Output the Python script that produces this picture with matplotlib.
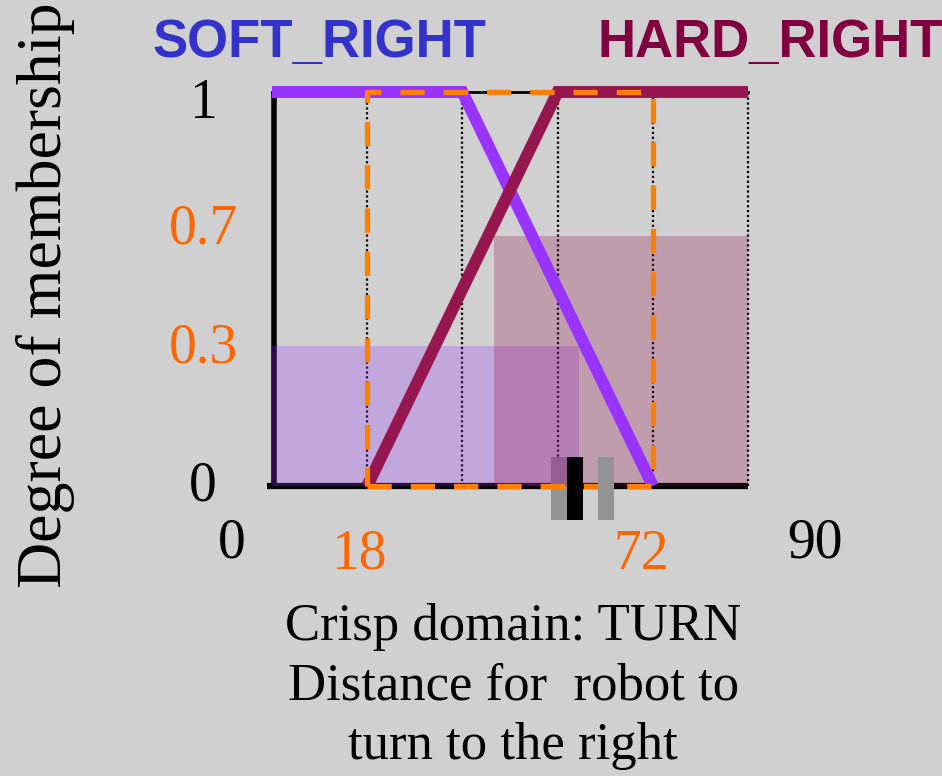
import matplotlib
matplotlib.use("Agg")
import matplotlib.pyplot as plt

# membership functions (crisp domain TURN, 0..90)
soft_x = [0, 36, 72]
soft_y = [1, 1, 0]
hard_x = [18, 54, 90]
hard_y = [0, 1, 1]

# clipped areas (rule strengths)
soft_fill_x = [0, 58]
soft_fill_h = 0.355
hard_fill_x = [42, 90]
hard_fill_h = 0.635

# support rectangle and grid
support = [18, 72]
grid_x = [18, 36, 54, 72, 90]

# defuzzified markers
marker_x = [54.2, 57.25, 63.2]
marker_colors = ["#939393", "#000000", "#939393"]
marker_bottom = -0.086
marker_height = 0.16

# labels
y_tick_vals = [0, 0.35, 0.65, 0.97]
y_tick_labels = ["0", "0.3", "0.7", "1"]
y_tick_colors = ["black", "#ff6600", "#ff6600", "black"]
x_tick_labels = ["0", "18", "72", "90"]
x_tick_colors = ["black", "#ff6600", "#ff6600", "black"]
x_tick_pos = [(-7.6, -0.145), (16.4, -0.175), (69.8, -0.175), (102.6, -0.145)]
x_title = ["Crisp domain: TURN", "Distance for  robot to", "turn to the right"]

SOFT_C = "#9933ff"
HARD_C = "#961650"
ORANGE = "#ff8000"
BG = "#d0d0d0"
SERIF = "Liberation Serif"

fig = plt.figure(figsize=(9.42, 7.76), dpi=100, facecolor=BG)
ax = fig.add_axes([0, 0, 1, 1])
ax.set_facecolor(BG)
ax.set_xlim(-272 / 5.289, (942 - 272) / 5.289)
ax.set_ylim(-(776 - 486) / 394, 486 / 394)
ax.axis("off")

# grid: dotted verticals, top line, axes
for gx in grid_x:
    ax.plot([gx, gx], [0, 1], color="black", lw=1.6, ls=(0, (1, 1.2)), zorder=1)
ax.plot([0, 90], [1, 1], color="black", lw=2, zorder=1)
ax.plot([-1, 90], [0, 0], color="black", lw=4.5, solid_capstyle="butt", zorder=1)
ax.plot([0.3, 0.3], [0, 1], color="black", lw=4, solid_capstyle="butt", zorder=1)

# the left grey marker sits behind the fills
ax.bar(marker_x[0], marker_height, width=3, bottom=marker_bottom,
       color=marker_colors[0], zorder=1.5)

# clipped fills
ax.fill_between(soft_fill_x, 0, soft_fill_h, color=SOFT_C, alpha=0.26, lw=0, zorder=2)
ax.fill_between(hard_fill_x, 0, hard_fill_h, color=HARD_C, alpha=0.27, lw=0, zorder=2)

# membership lines
ax.plot(soft_x, soft_y, color=SOFT_C, lw=8.6, solid_joinstyle="miter",
        solid_capstyle="butt", zorder=3)
ax.plot(hard_x, hard_y, color=HARD_C, lw=8.6, solid_joinstyle="miter",
        solid_capstyle="butt", zorder=4)

# orange dashed support box
ax.plot([support[0], support[1], support[1], support[0], support[0]],
        [0, 0, 1, 1, 0], color=ORANGE, lw=3.8, dashes=(4.6, 3.6),
        dash_capstyle="butt", zorder=5)

# other markers
ax.bar(marker_x[1:], [marker_height] * 2, width=3, bottom=marker_bottom,
       color=marker_colors[1:], zorder=6)

# set names
ax.text(-22.6, 1.089, "SOFT_RIGHT", color="#3333cc", fontsize=38,
        fontweight="bold", family="Liberation Sans", va="baseline", ha="left")
ax.text(61.45, 1.089, "HARD_RIGHT", color="#800040", fontsize=38,
        fontweight="bold", family="Liberation Sans", va="baseline", ha="left")

# tick labels
for v, lab, c in zip(y_tick_vals, y_tick_labels, y_tick_colors):
    ax.text(-13.0, v, lab, color=c, fontsize=40, family=SERIF,
            ha="center", va="center")
for (px, py), lab, c in zip(x_tick_pos, x_tick_labels, x_tick_colors):
    ax.text(px, py, lab, color=c, fontsize=40, family=SERIF,
            ha="center", va="center")

# axis titles
ax.text(-42.8, 0.485, "Degree of membership", rotation=90, fontsize=46,
        family=SERIF, ha="center", va="center")
ax.text(45.6, -0.51, "\n".join(x_title), fontsize=38, family=SERIF,
        ha="center", va="center", linespacing=1.31)

fig.savefig("out.png", dpi=100, facecolor=BG)
